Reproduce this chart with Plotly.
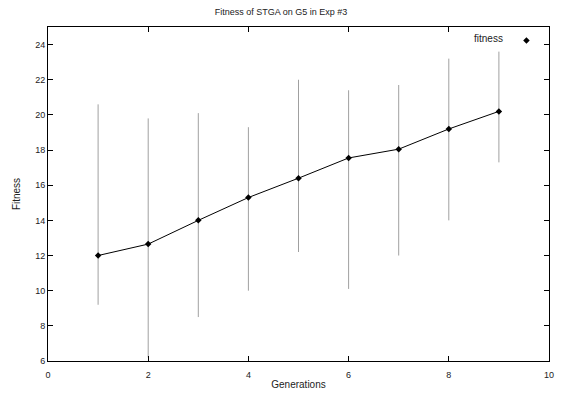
import plotly.graph_objects as go

generations = [1, 2, 3, 4, 5, 6, 7, 8, 9]
fitness_mean = [12.0, 12.65, 14.0, 15.3, 16.4, 17.55, 18.05, 19.2, 20.2]
fitness_min = [9.2, 6.2, 8.5, 10.0, 12.2, 10.1, 12.0, 14.0, 17.3]
fitness_max = [20.6, 19.8, 20.1, 19.3, 22.0, 21.4, 21.7, 23.2, 23.6]

x_ticks = [0, 2, 4, 6, 8, 10]
y_ticks = [6, 8, 10, 12, 14, 16, 18, 20, 22, 24]

err_plus = [hi - m for hi, m in zip(fitness_max, fitness_mean)]
err_minus = [m - lo for lo, m in zip(fitness_min, fitness_mean)]

FONT = "Liberation Sans, Arial, sans-serif"

fig = go.Figure()
fig.add_trace(go.Scatter(
    x=generations, y=fitness_mean, mode="lines+markers",
    line=dict(color="black", width=1),
    marker=dict(symbol="diamond", size=5, color="black"),
    error_y=dict(type="data", array=err_plus, arrayminus=err_minus,
                 color="#a0a0a0", thickness=1, width=0),
    showlegend=False,
))
fig.add_trace(go.Scatter(
    x=[None], y=[None], mode="markers", name=" ",
    marker=dict(symbol="diamond", size=5, color="black"),
    showlegend=True,
))

axis_common = dict(
    showline=True, linecolor="black", linewidth=1, mirror="ticks",
    ticks="inside", ticklen=5, tickcolor="black", showgrid=False,
    zeroline=False, tickfont=dict(family=FONT, size=9, color="#222"),
)

fig.update_layout(
    width=562, height=396,
    margin=dict(l=48, r=8, t=27, b=35),
    paper_bgcolor="white", plot_bgcolor="white",
    title=dict(text="Fitness of STGA on G5 in Exp #3", x=0.5, xanchor="center",
               y=0.978, yanchor="top",
               font=dict(family=FONT, size=9, color="#222")),
    xaxis=dict(range=[0, 10], tickvals=x_ticks, ticklabelstandoff=5,
               title=dict(text="Generations", standoff=2,
                          font=dict(family=FONT, size=10, color="#222")),
               **axis_common),
    yaxis=dict(range=[6, 25], tickvals=y_ticks,
               title=dict(text="Fitness", standoff=12,
                          font=dict(family=FONT, size=10, color="#222")),
               **axis_common),
    legend=dict(x=0.915, y=1.003, xanchor="left", yanchor="top",
                bgcolor="rgba(0,0,0,0)",
                font=dict(family=FONT, size=10), itemwidth=30),
    annotations=[dict(text="fitness", xref="paper", yref="paper",
                      x=0.913, y=0.967, xanchor="right", yanchor="middle",
                      showarrow=False,
                      font=dict(family=FONT, size=10, color="#222"))],
)

fig.write_html("out.html")
